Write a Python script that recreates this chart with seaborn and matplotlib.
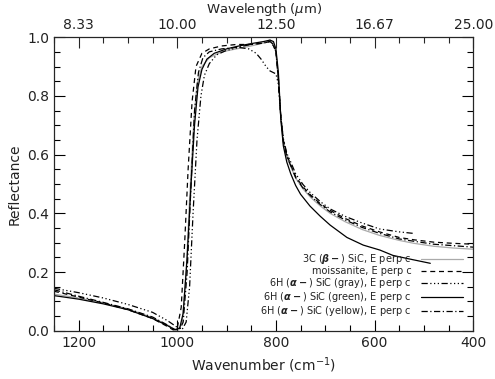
import numpy as np
import pandas as pd
import matplotlib
matplotlib.use('Agg')
import matplotlib.pyplot as plt
import seaborn as sns
from matplotlib.ticker import MultipleLocator

# Spectra (wavenumber in cm^-1, reflectance)
wn_3c = [1250, 1200, 1150, 1100, 1050, 1020, 1005, 997, 990, 982, 975, 967, 960, 950, 935,
         910, 880, 850, 825, 812, 805, 800, 795, 790, 785, 778, 770, 760, 745, 730, 710,
         690, 660, 625, 590, 550, 520, 480, 440, 400]
r_3c = [0.125, 0.112, 0.095, 0.075, 0.045, 0.02, 0.005, 0.003, 0.03, 0.2, 0.45, 0.7, 0.84,
        0.9, 0.93, 0.95, 0.96, 0.97, 0.98, 0.99, 0.975, 0.95, 0.85, 0.72, 0.64, 0.59, 0.56,
        0.52, 0.483, 0.455, 0.425, 0.4, 0.372, 0.345, 0.325, 0.308, 0.298, 0.288, 0.282, 0.278]

wn_moiss = [1250, 1200, 1150, 1100, 1050, 1020, 1008, 1000, 992, 985, 978, 970, 962, 950,
            935, 910, 880, 850, 825, 812, 805, 800, 795, 790, 785, 778, 770, 760, 745, 730,
            710, 690, 660, 625, 590, 550, 520, 480, 440, 400]
r_moiss = [0.135, 0.115, 0.095, 0.072, 0.042, 0.015, 0.003, 0.01, 0.08, 0.3, 0.55, 0.78,
           0.9, 0.945, 0.96, 0.97, 0.975, 0.975, 0.98, 0.985, 0.97, 0.95, 0.86, 0.73, 0.65,
           0.6, 0.565, 0.525, 0.49, 0.463, 0.433, 0.41, 0.383, 0.357, 0.337, 0.318, 0.31,
           0.302, 0.298, 0.295]

wn_gray = [1250, 1200, 1150, 1100, 1050, 1020, 1000, 990, 982, 975, 968, 960, 952, 945, 935,
           920, 900, 875, 855, 840, 830, 820, 812, 800, 795, 790, 785, 778, 770, 760, 745,
           730, 710, 690, 660, 625, 590, 550, 522]
r_gray = [0.145, 0.13, 0.112, 0.09, 0.063, 0.035, 0.012, 0.005, 0.03, 0.15, 0.4, 0.65, 0.8,
          0.87, 0.91, 0.94, 0.955, 0.965, 0.96, 0.945, 0.925, 0.9, 0.885, 0.875, 0.84, 0.73,
          0.655, 0.605, 0.575, 0.535, 0.498, 0.47, 0.44, 0.415, 0.39, 0.367, 0.347, 0.337,
          0.332]

wn_green = [1250, 1200, 1150, 1100, 1050, 1020, 1005, 995, 988, 980, 972, 965, 958, 950,
            940, 925, 900, 875, 850, 825, 812, 805, 800, 795, 790, 785, 778, 770, 760, 750,
            731, 710, 690, 656, 623, 589, 563, 530, 487]
r_green = [0.12, 0.108, 0.092, 0.072, 0.042, 0.018, 0.004, 0.01, 0.06, 0.25, 0.5, 0.7, 0.83,
           0.89, 0.925, 0.945, 0.96, 0.97, 0.978, 0.985, 0.99, 0.985, 0.96, 0.88, 0.72, 0.63,
           0.575, 0.535, 0.495, 0.465, 0.425, 0.39, 0.36, 0.318, 0.292, 0.275, 0.257, 0.245,
           0.23]

wn_yellow = [1250, 1200, 1150, 1100, 1050, 1020, 1005, 995, 988, 980, 972, 965, 957, 948,
             935, 910, 880, 850, 825, 812, 805, 800, 795, 790, 785, 778, 770, 760, 745, 730,
             710, 690, 660, 625, 590, 550, 520, 480, 440, 400]
r_yellow = [0.14, 0.118, 0.097, 0.075, 0.047, 0.02, 0.004, 0.004, 0.03, 0.2, 0.5, 0.75, 0.88,
            0.93, 0.95, 0.96, 0.965, 0.975, 0.98, 0.985, 0.975, 0.95, 0.855, 0.725, 0.645,
            0.595, 0.563, 0.522, 0.486, 0.46, 0.43, 0.405, 0.378, 0.352, 0.332, 0.313, 0.305,
            0.295, 0.29, 0.285]

labels = [r'3C ($\boldsymbol{\beta -}$) SiC, E perp c',
          'moissanite, E perp c',
          r'6H ($\boldsymbol{\alpha -}$) SiC (gray), E perp c',
          r'6H ($\boldsymbol{\alpha -}$) SiC (green), E perp c',
          r'6H ($\boldsymbol{\alpha -}$) SiC (yellow), E perp c']

top_ticks = [1200, 1000, 800, 600, 400]
top_labels = ['8.33', '10.00', '12.50', '16.67', '25.00']

sns.set_style('ticks')
plt.rcParams['font.family'] = ['DejaVu Sans']
plt.rcParams['mathtext.fontset'] = 'dejavusans'

fig = plt.figure(figsize=(4.95, 3.79), dpi=100)
ax = fig.add_axes([0.109, 0.127, 0.847, 0.775])

series = [(wn_3c, r_3c, '#aaaaaa', '-'),
          (wn_moiss, r_moiss, 'black', (0, (4, 3))),
          (wn_gray, r_gray, 'black', (0, (5, 2, 1, 2, 1, 2, 1, 2))),
          (wn_green, r_green, 'black', '-'),
          (wn_yellow, r_yellow, 'black', (0, (5, 2, 1, 2)))]

for (wn, r, col, ls), lab in zip(series, labels):
    df = pd.DataFrame({'wn': wn, 'r': r})
    sns.lineplot(data=df, x='wn', y='r', ax=ax, color=col, linestyle=ls,
                 linewidth=0.9, label=lab, sort=False, estimator=None)

ax.set_xlim(1250, 400)
ax.set_ylim(0, 1.0)
ax.xaxis.set_major_locator(MultipleLocator(200))
ax.xaxis.set_minor_locator(MultipleLocator(50))
ax.yaxis.set_major_locator(MultipleLocator(0.2))
ax.yaxis.set_minor_locator(MultipleLocator(0.05))
ax.yaxis.set_major_formatter(matplotlib.ticker.FormatStrFormatter('%.1f'))
ax.tick_params(which='both', direction='in', right=True, top=False, color='black',
               labelsize=10, width=0.8, labelcolor='#222222')
ax.tick_params(which='major', length=8)
ax.tick_params(which='minor', length=4)
for s in ax.spines.values():
    s.set_linewidth(0.8)
    s.set_color('black')
ax.set_xlabel('Wavenumber (cm$^{-1}$)', fontsize=10, color='#222222')
ax.set_ylabel('Reflectance', fontsize=10, color='#222222')

ax2 = ax.twiny()
ax2.set_xlim(ax.get_xlim())
ax2.set_xticks(top_ticks)
ax2.set_xticklabels(top_labels)
ax2.xaxis.set_minor_locator(MultipleLocator(50))
ax2.tick_params(which='both', direction='in', labelsize=10, width=0.8, pad=4,
                labelcolor='#222222')
ax2.tick_params(which='major', length=8)
ax2.tick_params(which='minor', length=4)
ax2.set_xlabel(r'Wavelength ($\mu$m)', fontsize=9.5, color='#222222', va='center')
ax2.xaxis.set_label_coords(0.5, 1.095)

leg = ax.legend(loc='lower right', bbox_to_anchor=(0.985, 0.03), frameon=False,
                markerfirst=False, fontsize=7, handlelength=4.3, labelspacing=0.0,
                handletextpad=1.0, borderaxespad=0)
for t in leg.get_texts():
    t.set_color('#222222')

fig.savefig('out.png', dpi=100)
